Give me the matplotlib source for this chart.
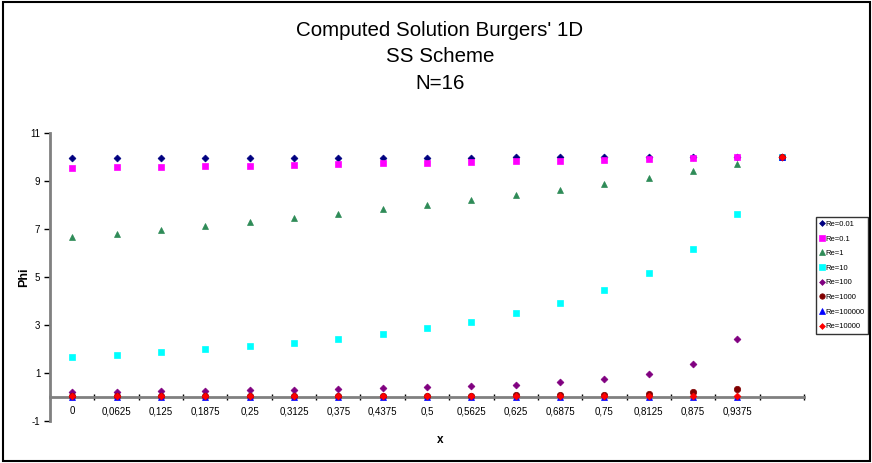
import matplotlib
matplotlib.use("Agg")
import matplotlib.pyplot as plt
import matplotlib.ticker as mtick
from matplotlib.patches import Rectangle

# ==========================================================
# 1. Data
# ==========================================================
x_labels = ["0", "0,0625", "0,125", "0,1875", "0,25", "0,3125", "0,375",
            "0,4375", "0,5", "0,5625", "0,625", "0,6875", "0,75", "0,8125",
            "0,875", "0,9375", ""]

re_001 = [9.97, 9.97, 9.97, 9.97, 9.97, 9.98, 9.98, 9.98, 9.98, 9.98,
          9.99, 9.99, 9.99, 9.99, 10.0, 10.0, 10.0]
re_01 = [9.54, 9.58, 9.60, 9.62, 9.64, 9.67, 9.71, 9.74, 9.76, 9.79,
         9.83, 9.86, 9.89, 9.92, 9.95, 9.99, 10.0]
re_1 = [6.67, 6.80, 6.96, 7.11, 7.30, 7.45, 7.62, 7.82, 8.01, 8.20,
        8.43, 8.65, 8.90, 9.15, 9.43, 9.70, 10.0]
re_10 = [1.68, 1.76, 1.86, 1.98, 2.10, 2.26, 2.40, 2.62, 2.87, 3.14,
         3.49, 3.92, 4.45, 5.17, 6.16, 7.62, 10.0]
re_100 = [0.20, 0.20, 0.23, 0.23, 0.27, 0.30, 0.33, 0.35, 0.39, 0.45,
          0.51, 0.61, 0.74, 0.97, 1.37, 2.41, 10.0]
re_1000 = [0.02, 0.02, 0.02, 0.02, 0.03, 0.03, 0.03, 0.04, 0.04, 0.05,
           0.06, 0.07, 0.09, 0.13, 0.19, 0.33, 10.0]
re_100000 = [0.0, 0.0, 0.0, 0.0, 0.0, 0.0, 0.0, 0.0, 0.0, 0.0,
             0.0, 0.0, 0.0, 0.0, 0.0, 0.0, 10.0]
re_10000 = [0.03, 0.03, 0.03, 0.03, 0.03, 0.03, 0.03, 0.03, 0.03, 0.03,
            0.03, 0.03, 0.03, 0.03, 0.05, 0.02, 10.0]

series = [
    ("Re=0.01", re_001, "D", "#000080", 3.5),
    ("Re=0.1", re_01, "s", "#FF00FF", 5.0),
    ("Re=1", re_1, "^", "#2E8B57", 4.8),
    ("Re=10", re_10, "s", "#00FFFF", 5.0),
    ("Re=100", re_100, "D", "#800080", 3.5),
    ("Re=1000", re_1000, "o", "#800000", 4.6),
    ("Re=100000", re_100000, "^", "#0000FF", 4.8),
    ("Re=10000", re_10000, "D", "#FF0000", 3.5),
]

plt.rcParams["font.family"] = ["Liberation Sans", "DejaVu Sans"]
plt.rcParams["axes.unicode_minus"] = False

# ==========================================================
# 2. Figure & axes
# ==========================================================
fig = plt.figure(figsize=(8.72, 4.63), dpi=100)
ax = fig.add_axes([50 / 872, 42.3 / 463, 754 / 872, 287.4 / 463])

positions = list(range(len(x_labels)))

for label, values, marker, color, ms in series:
    ax.plot(positions, values, linestyle="none", marker=marker,
            markersize=ms, color=color, markeredgewidth=0.5,
            label=label, clip_on=False, zorder=3)

# ==========================================================
# 3. Axis styling (Excel look)
# ==========================================================
ax.set_xlim(-0.5, len(x_labels) - 0.5)
ax.set_ylim(-1, 11)

ax.spines["top"].set_visible(False)
ax.spines["right"].set_visible(False)
ax.spines["bottom"].set_position(("data", 0))
for side in ["left", "bottom"]:
    ax.spines[side].set_color("#808080")
    ax.spines[side].set_linewidth(2)

ax.yaxis.set_major_locator(mtick.MultipleLocator(2, offset=1))
ax.tick_params(axis="y", direction="out", length=4, width=1,
               labelsize=7, pad=3, colors="black")

# tick marks on category boundaries, labels centred between them
ax.set_xticks([p - 0.5 for p in positions] + [len(x_labels) - 0.5])
ax.set_xticklabels([])
ax.set_xticks(positions, minor=True)
ax.set_xticklabels(x_labels, minor=True)
ax.tick_params(axis="x", which="major", direction="inout", length=5,
               width=1, colors="black")
ax.tick_params(axis="x", which="minor", length=0, labelsize=7, pad=7)

ax.set_ylabel("Phi", fontsize=9, fontweight="bold")
ax.yaxis.set_label_coords(-0.027, 0.5)

fig.text(440 / 872, 1 - 440 / 463, "x", fontsize=8.5, fontweight="bold",
         ha="center", va="center")

fig.text(440 / 872, 1 - 57 / 463,
         "Computed Solution Burgers' 1D\nSS Scheme\nN=16",
         fontsize=14.8, ha="center", va="center", linespacing=1.5)

# ==========================================================
# 4. Legend
# ==========================================================
leg = ax.legend(loc="lower left", bbox_to_anchor=(816 / 872, 129 / 463),
                bbox_transform=fig.transFigure, borderaxespad=0,
                fontsize=5.5, frameon=True, fancybox=False,
                handlelength=0.5, handletextpad=0.25, labelspacing=0.95,
                borderpad=0.5, markerscale=0.85)
leg.get_frame().set_edgecolor("black")
leg.get_frame().set_linewidth(1)

# outer chart-area border
fig.add_artist(Rectangle((3 / 872, 2 / 463), 867 / 872, 459 / 463,
                         transform=fig.transFigure, fill=False,
                         edgecolor="black", linewidth=1.5))

fig.savefig("out.png", dpi=100, facecolor="white")
